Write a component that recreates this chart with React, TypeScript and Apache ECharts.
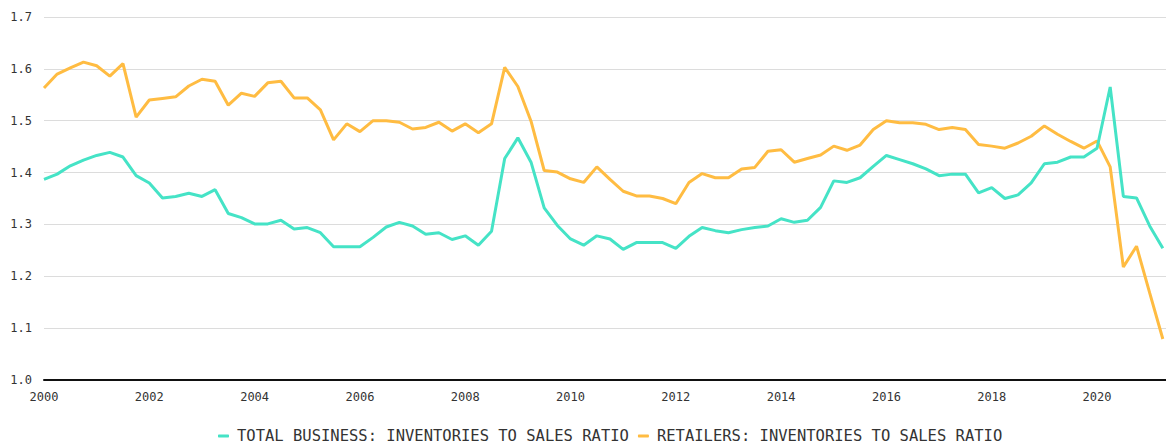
import React, { useEffect, useRef } from "react";
import * as echarts from "echarts";

const seriesNames = [
  "TOTAL BUSINESS: INVENTORIES TO SALES RATIO",
  "RETAILERS: INVENTORIES TO SALES RATIO",
];

const startYear = 2000;

const totalBusiness = [
  1.387, 1.397, 1.413, 1.424, 1.433, 1.439, 1.430, 1.394, 1.380, 1.351,
  1.354, 1.360, 1.354, 1.367, 1.321, 1.313, 1.301, 1.301, 1.308, 1.291,
  1.294, 1.284, 1.257, 1.257, 1.257, 1.275, 1.295, 1.304, 1.297, 1.281,
  1.284, 1.271, 1.278, 1.260, 1.287, 1.427, 1.467, 1.420, 1.332, 1.298,
  1.272, 1.260, 1.278, 1.272, 1.252, 1.265, 1.265, 1.265, 1.254, 1.277,
  1.294, 1.288, 1.284, 1.290, 1.294, 1.297, 1.311, 1.304, 1.308, 1.333,
  1.384, 1.381, 1.390, 1.412, 1.433, 1.425, 1.417, 1.407, 1.394, 1.397,
  1.397, 1.361, 1.371, 1.350, 1.357, 1.380, 1.417, 1.420, 1.430, 1.430,
  1.447, 1.565, 1.354, 1.351, 1.297, 1.254,
];

const retailers = [
  1.563, 1.590, 1.602, 1.613, 1.606, 1.586, 1.610, 1.507, 1.540, 1.543,
  1.546, 1.567, 1.580, 1.576, 1.530, 1.553, 1.547, 1.573, 1.576, 1.544,
  1.544, 1.521, 1.463, 1.494, 1.479, 1.500, 1.500, 1.497, 1.484, 1.487,
  1.497, 1.480, 1.494, 1.477, 1.494, 1.603, 1.566, 1.499, 1.404, 1.401,
  1.388, 1.381, 1.411, 1.387, 1.364, 1.355, 1.355, 1.350, 1.340, 1.381,
  1.398, 1.390, 1.390, 1.407, 1.410, 1.441, 1.444, 1.420, 1.427, 1.434,
  1.451, 1.443, 1.453, 1.483, 1.500, 1.496, 1.496, 1.493, 1.483, 1.487,
  1.483, 1.454, 1.451, 1.447, 1.457, 1.470, 1.490, 1.474, 1.460, 1.447,
  1.461, 1.411, 1.218, 1.258, 1.168, 1.079,
];

const yTicks = [1.0, 1.1, 1.2, 1.3, 1.4, 1.5, 1.6, 1.7];

const TEAL = "#45E3C6";
const ORANGE = "#FFBC42";
const FONT = "'DejaVu Sans Mono', monospace";

// quarter start expressed as decimal year
const quarterX = (i: number) => startYear + i / 4;

export default function App() {
  const ref = useRef<HTMLDivElement>(null);

  useEffect(() => {
    if (!ref.current) return;
    const chart = echarts.init(ref.current, undefined, { renderer: "svg" });
    const totalData = totalBusiness.map((v, i) => [quarterX(i), v]);
    const retailData = retailers.map((v, i) => [quarterX(i), v]);

    chart.setOption({
      animation: false,
      backgroundColor: "#ffffff",
      grid: { left: 44, right: 0, top: 17, bottom: 65 },
      legend: {
        data: seriesNames,
        top: 423,
        left: 213,
        icon: "roundRect",
        itemWidth: 11,
        itemHeight: 3,
        itemGap: 9,
        textStyle: {
          fontFamily: FONT,
          fontSize: 15.5,
          lineHeight: 16,
          color: "#333",
          padding: [0, 0, 0, 3],
        },
      },
      xAxis: {
        type: "value",
        min: 2000,
        max: 2021.31,
        interval: 2,
        axisLine: { show: true, lineStyle: { color: "#111", width: 2 } },
        axisTick: { show: false },
        splitLine: { show: false },
        axisLabel: {
          color: "#333",
          fontFamily: FONT,
          fontSize: 12,
          margin: 11,
          showMaxLabel: false,
          formatter: (v: number) =>
            Math.abs(v - Math.round(v)) < 1e-6 && Math.round(v) % 2 === 0
              ? String(Math.round(v))
              : "",
        },
      },
      yAxis: {
        type: "value",
        min: yTicks[0],
        max: yTicks[yTicks.length - 1],
        interval: 0.1,
        axisLine: { show: false },
        axisTick: { show: false },
        splitLine: { show: true, lineStyle: { color: "#dcdcdc", width: 1 } },
        axisLabel: {
          color: "#333",
          fontFamily: FONT,
          fontSize: 12,
          margin: 12,
          formatter: (v: number) => v.toFixed(1),
        },
      },
      series: [
        {
          name: seriesNames[1],
          type: "line",
          data: retailData,
          showSymbol: false,
          symbol: "none",
          color: ORANGE,
          lineStyle: { color: ORANGE, width: 3 },
          z: 2,
        },
        {
          name: seriesNames[0],
          type: "line",
          data: totalData,
          showSymbol: false,
          symbol: "none",
          color: TEAL,
          lineStyle: { color: TEAL, width: 3 },
          z: 3,
        },
      ],
    });

    return () => chart.dispose();
  }, []);

  return (
    <div
      ref={ref}
      style={{ position: "fixed", left: 0, top: 0, width: 1166, height: 445 }}
    />
  );
}
